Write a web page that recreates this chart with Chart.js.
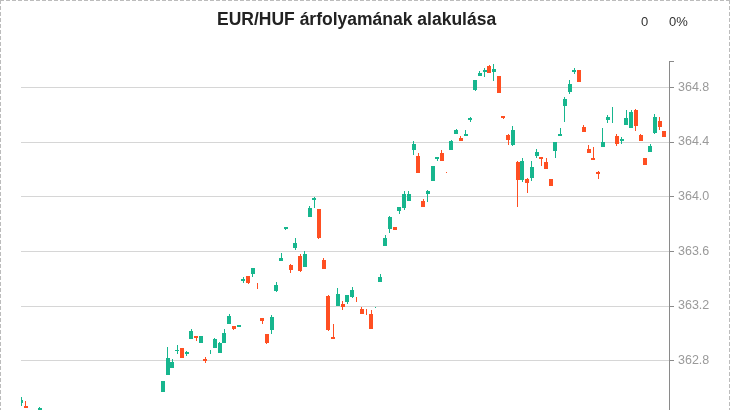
<!DOCTYPE html>
<html lang="hu">
<head>
<meta charset="utf-8">
<title>EUR/HUF árfolyamának alakulása</title>
<script src="https://cdn.jsdelivr.net/npm/chart.js@4/dist/chart.umd.min.js"></script>
<style>
html,body{margin:0;padding:0;background:#fff;overflow:hidden;}
#wrap{position:relative;width:730px;height:430px;}
canvas{position:absolute;left:0;top:0;}
#frame{position:absolute;left:0;top:0;width:730px;height:430px;pointer-events:none;
  background:
   repeating-linear-gradient(90deg,#bcbcbc 0 4px,transparent 4px 6px) left top/100% 1px no-repeat,
   repeating-linear-gradient(180deg,#bcbcbc 0 4px,transparent 4px 6px) left top/1px 100% no-repeat,
   repeating-linear-gradient(180deg,#bcbcbc 0 4px,transparent 4px 6px) right top/1px 100% no-repeat;}
#title{position:absolute;left:217px;top:11px;font:bold 17.5px/1 "Liberation Sans",Arial,sans-serif;color:#222;white-space:nowrap;}
.stat{position:absolute;top:15px;font:13px/1 "Liberation Sans",Arial,sans-serif;color:#333;white-space:nowrap;}
</style>
</head>
<body>
<div id="wrap">
  <canvas id="c" width="730" height="430"></canvas>
  <div id="frame"></div>
  <div id="title">EUR/HUF árfolyamának alakulása</div>
  <div class="stat" style="left:641px">0</div>
  <div class="stat" style="left:669px">0%</div>
</div>
<script>
// ---- data (one entry per candle slot; null = no visible candle) ----
const openValues = [
362.490, 362.468, null, null, 362.420,
null, null, null, null, null, null, null, null, null, null, null, null, null, null, null, null, null, null, null, null, null, null, null, null, null,
362.571, 362.695, 362.747, 362.874, 362.893, 362.849, 362.959, 362.981, 362.930, 362.812,
362.854, 362.893, 362.856, 362.930, 363.069, 363.054, 363.047, 363.384, 363.420, 363.435,
363.356, 363.113, 362.996, 363.025, 363.311, 363.530, 363.765, 363.501, 363.626, 363.567,
363.486, 363.853, 363.977, 363.911, 363.538, 363.274, 362.974, 363.201, 363.215, 363.230,
363.267, 363.250, 363.179, 363.171, 363.142, 363.190, 363.377, 363.640, 363.765, 363.779,
363.897, 363.919, 363.970, 364.344, 364.300, 363.970, 364.021, 364.117, 364.278, 364.322,
364.182, 364.344, 364.461, 364.432, 364.446, 364.563, 364.783, 364.886, 364.915, 364.959,
364.915, 364.886, 364.593, 364.454, 364.380, 364.256, 364.124, 364.131, 364.138, 364.300,
364.292, 364.256, 364.131, 364.336, 364.446, 364.666, 364.769, 364.915, 364.930, 364.512,
364.351, 364.285, 364.182, 364.366, 364.563, 364.570, 364.446, 364.410, 364.527, 364.505,
364.637, 364.454, 364.285, 364.329, 364.468, 364.556, 364.483, null
];
const highValues = [
362.536, 362.505, null, null, 362.461,
null, null, null, null, null, null, null, null, null, null, null, null, null, null, null, null, null, null, null, null, null, null, null, null, null,
362.651, 362.900, 362.812, 362.915, 362.893, 362.873, 363.032, 362.981, 362.981, 362.827,
362.878, 362.966, 362.937, 363.032, 363.142, 363.054, 363.062, 363.413, 363.420, 363.479,
363.369, 363.113, 362.996, 363.135, 363.377, 363.589, 363.779, 363.508, 363.699, 363.582,
363.604, 363.933, 363.999, 363.911, 363.552, 363.281, 363.069, 363.333, 363.237, 363.281,
363.340, 363.267, 363.193, 363.179, 363.171, 363.193, 363.435, 363.721, 363.860, 363.779,
363.926, 364.043, 364.043, 364.410, 364.322, 363.985, 364.051, 364.226, 364.292, 364.344,
364.182, 364.417, 364.497, 364.446, 364.490, 364.585, 364.856, 364.922, 364.944, 364.966,
364.973, 364.886, 364.593, 364.461, 364.519, 364.263, 364.285, 364.138, 364.263, 364.351,
364.292, 364.285, 364.131, 364.402, 364.505, 364.732, 364.856, 364.944, 364.930, 364.527,
364.380, 364.366, 364.190, 364.505, 364.600, 364.659, 364.461, 364.439, 364.637, 364.637,
364.644, 364.461, 364.285, 364.388, 364.607, 364.585, 364.483, null
];
const lowValues = [
362.468, 362.453, null, null, 362.410,
null, null, null, null, null, null, null, null, null, null, null, null, null, null, null, null, null, null, null, null, null, null, null, null, null,
362.571, 362.695, 362.747, 362.849, 362.820, 362.834, 362.959, 362.944, 362.930, 362.783,
362.849, 362.893, 362.856, 362.930, 363.069, 363.025, 363.047, 363.369, 363.362, 363.413,
363.325, 363.069, 362.922, 362.996, 363.303, 363.530, 363.758, 363.442, 363.611, 363.450,
363.486, 363.853, 363.919, 363.692, 363.472, 363.018, 362.959, 363.201, 363.171, 363.215,
363.259, 363.230, 363.142, 363.135, 363.032, 363.186, 363.377, 363.640, 363.735, 363.758,
363.875, 363.904, 363.970, 364.307, 364.175, 363.926, 363.963, 364.117, 364.263, 364.263,
364.175, 364.344, 364.461, 364.410, 364.446, 364.549, 364.776, 364.886, 364.878, 364.908,
364.849, 364.761, 364.571, 364.380, 364.373, 363.926, 364.109, 364.029, 364.117, 364.285,
364.226, 364.204, 364.080, 364.285, 364.446, 364.549, 364.754, 364.900, 364.842, 364.476,
364.322, 364.270, 364.131, 364.366, 364.541, 364.541, 364.373, 364.388, 364.527, 364.505,
364.483, 364.410, 364.234, 364.329, 364.461, 364.490, 364.439, null
];
const closeValues = [
362.510, 362.453, null, null, 362.453,
null, null, null, null, null, null, null, null, null, null, null, null, null, null, null, null, null, null, null, null, null, null, null, null, null,
362.651, 362.820, 362.790, 362.875, 362.820, 362.864, 363.018, 362.966, 362.981, 362.798,
362.855, 362.959, 362.930, 363.003, 363.127, 363.032, 363.062, 363.399, 363.369, 363.479,
363.355, 363.091, 362.930, 363.120, 363.355, 363.552, 363.779, 363.464, 363.662, 363.457,
363.582, 363.919, 363.992, 363.699, 363.472, 363.025, 362.959, 363.289, 363.193, 363.281,
363.318, 363.249, 363.142, 363.170, 363.032, 363.191, 363.413, 363.699, 363.853, 363.758,
363.926, 364.021, 364.021, 364.388, 364.175, 363.926, 364.043, 364.226, 364.292, 364.263,
364.181, 364.410, 364.490, 364.410, 364.461, 364.578, 364.856, 364.908, 364.930, 364.908,
364.937, 364.761, 364.578, 364.417, 364.490, 364.124, 364.263, 364.102, 364.219, 364.329,
364.278, 364.204, 364.080, 364.402, 364.461, 364.717, 364.827, 364.930, 364.842, 364.476,
364.322, 364.270, 364.168, 364.402, 364.585, 364.571, 364.388, 364.424, 364.578, 364.622,
364.519, 364.410, 364.234, 364.373, 364.585, 364.512, 364.439, null
];
const categories = openValues.map((_, i) => String(i + 1));
const yTickValues = [362.8, 363.2, 363.6, 364.0, 364.4, 364.8];
const Y_MIN = 362.439;
const Y_MAX = 364.993;

// ---- styles ----
const UP = '#17b68e';
const DOWN = '#ff4f22';
const GRID = '#d6d6d6';
const AXIS = '#8a8a8a';

const candleColor = ctx => {
  const i = ctx.dataIndex;
  return closeValues[i] >= openValues[i] ? UP : DOWN;
};

const wickData = highValues.map((h, i) => h == null ? null : [lowValues[i], h]);
const bodyData = openValues.map((o, i) => o == null ? null : [o, closeValues[i]]);

// snap bar edges to whole pixels for crisp candles
const snapPlugin = {
  id: 'snap',
  afterDatasetsUpdate(chart) {
    chart.data.datasets.forEach((ds, di) => {
      chart.getDatasetMeta(di).data.forEach(el => {
        const w = el.width;
        el.x = Math.round(el.x - w / 2) + w / 2;
        el.y = Math.round(el.y);
        el.base = Math.round(el.base);
      });
    });
  }
};

Chart.defaults.font.family = '"Liberation Sans", Arial, Helvetica, sans-serif';

new Chart(document.getElementById('c'), {
  type: 'bar',
  data: {
    labels: categories,
    datasets: [
      { data: wickData, barThickness: 1, backgroundColor: candleColor, grouped: false, clip: 0, inflateAmount: 0, borderWidth: 0, order: 2 },
      { data: bodyData, barThickness: 4, backgroundColor: candleColor, grouped: false, clip: 0, inflateAmount: 0, borderWidth: 0, order: 1 }
    ]
  },
  options: {
    responsive: false,
    animation: false,
    events: [],
    layout: { padding: { left: 21, top: 61, right: 21, bottom: 20 } },
    plugins: { legend: { display: false }, tooltip: { enabled: false }, title: { display: false } },
    scales: {
      x: { display: false, offset: false, grid: { display: false } },
      y: {
        position: 'right',
        min: Y_MIN,
        max: Y_MAX,
        afterBuildTicks: s => { s.ticks = yTickValues.map(v => ({ value: v })).concat([{ value: Y_MAX }]); },
        afterFit: s => { s.width = 40; },
        grid: {
          color: c => (c.tick && c.tick.value === Y_MAX) ? 'rgba(0,0,0,0)' : GRID,
          tickColor: AXIS,
          tickLength: 5,
          lineWidth: 1
        },
        border: { color: AXIS, width: 1 },
        ticks: {
          color: '#9a9a9a',
          font: { size: 12.5 },
          padding: 4,
          autoSkip: false,
          callback: v => v === Y_MAX ? '' : v.toFixed(1)
        }
      }
    }
  },
  plugins: [snapPlugin]
});
</script>
</body>
</html>
